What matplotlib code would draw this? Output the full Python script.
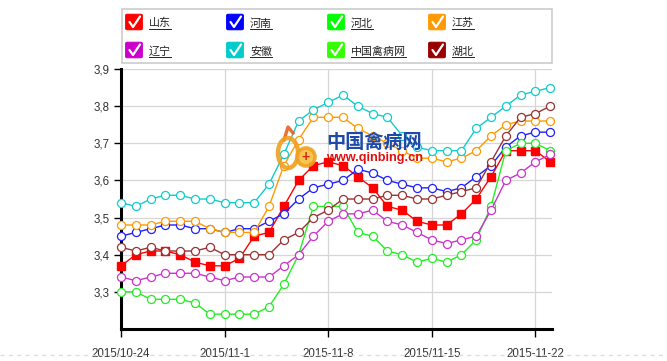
import matplotlib
matplotlib.use('Agg')
import matplotlib.pyplot as plt
from matplotlib.patches import FancyBboxPatch, Rectangle, Ellipse
from matplotlib.lines import Line2D

W, H = 667, 361
plt.rcParams['font.family'] = ['Liberation Sans', 'Noto Sans CJK SC', 'DejaVu Sans']

# ---------------- data ----------------
tick_labels = ['2015/10-24', '2015/11-1', '2015-11-8', '2015/11-15', '2015-11-22']
tick_pos = [0, 7, 14, 21, 28]
y_ticks = [3.3, 3.4, 3.5, 3.6, 3.7, 3.8, 3.9]
y_tick_labels = ['3,3', '3,4', '3,5', '3,6', '3,7', '3,8', '3,9']

series_names = ['山东', '河南', '河北', '江苏', '辽宁', '安徽', '中国禽病网', '湖北']
shandong = [3.37, 3.40, 3.41, 3.41, 3.40, 3.38, 3.37, 3.37, 3.39, 3.45,
            3.46, 3.53, 3.60, 3.64, 3.65, 3.64, 3.61, 3.58, 3.53, 3.52,
            3.49, 3.48, 3.48, 3.51, 3.55, 3.61, 3.68, 3.68, 3.68, 3.65]
henan = [3.45, 3.46, 3.47, 3.48, 3.48, 3.47, 3.47, 3.46, 3.47, 3.47,
         3.49, 3.51, 3.55, 3.58, 3.59, 3.60, 3.63, 3.62, 3.60, 3.59,
         3.58, 3.58, 3.57, 3.58, 3.61, 3.64, 3.69, 3.72, 3.73, 3.73]
hebei = [3.30, 3.30, 3.28, 3.28, 3.28, 3.27, 3.24, 3.24, 3.24, 3.24,
         3.26, 3.32, 3.40, 3.53, 3.53, 3.53, 3.46, 3.45, 3.41, 3.40,
         3.38, 3.39, 3.38, 3.40, 3.44, 3.53, 3.68, 3.70, 3.70, 3.68]
jiangsu = [3.48, 3.48, 3.48, 3.49, 3.49, 3.49, 3.47, 3.46, 3.46, 3.46,
           3.53, 3.64, 3.71, 3.77, 3.77, 3.77, 3.74, 3.72, 3.70, 3.68,
           3.66, 3.66, 3.65, 3.66, 3.68, 3.72, 3.75, 3.76, 3.76, 3.76]
liaoning = [3.34, 3.33, 3.34, 3.35, 3.35, 3.35, 3.34, 3.33, 3.34, 3.34,
            3.34, 3.37, 3.40, 3.45, 3.49, 3.51, 3.51, 3.52, 3.49, 3.48,
            3.46, 3.44, 3.43, 3.44, 3.45, 3.52, 3.60, 3.62, 3.65, 3.67]
anhui = [3.54, 3.53, 3.55, 3.56, 3.56, 3.55, 3.55, 3.54, 3.54, 3.54,
         3.59, 3.67, 3.76, 3.79, 3.81, 3.83, 3.80, 3.78, 3.77, 3.72,
         3.69, 3.68, 3.68, 3.68, 3.74, 3.77, 3.80, 3.83, 3.84, 3.85]
qinbing = []
hubei = [3.42, 3.41, 3.42, 3.41, 3.41, 3.41, 3.42, 3.40, 3.40, 3.40,
         3.40, 3.44, 3.46, 3.50, 3.52, 3.55, 3.55, 3.55, 3.56, 3.56,
         3.55, 3.55, 3.56, 3.57, 3.58, 3.65, 3.72, 3.77, 3.78, 3.80]

series_values = [shandong, henan, hebei, jiangsu, liaoning, anhui, qinbing, hubei]
line_colors = ['#ff0000', '#2020ff', '#22ee22', '#ff9900', '#cc33cc', '#11cccc', '#33ff00', '#993333']
box_colors = ['#ff0000', '#0000ff', '#00ff00', '#ff9900', '#cc00cc', '#00cccc', '#33ff00', '#990000']

# ---------------- figure ----------------
fig = plt.figure(figsize=(W / 100, H / 100), dpi=100)
fig.patch.set_facecolor('white')

def fx(x):
    return x / W

def fy(y):
    return 1 - y / H

ax = fig.add_axes([fx(121), fy(329), 431 / W, 260 / H])
ax.set_xlim(0, 29.12)
ax.set_ylim(3.2, 3.9)
ax.set_facecolor('none')

for s in ['top', 'right']:
    ax.spines[s].set_visible(False)
for s in ['left', 'bottom']:
    ax.spines[s].set_linewidth(2.2)
    ax.spines[s].set_color('black')
    ax.spines[s].set_zorder(3)

ax.set_yticks(y_ticks)
ax.set_yticklabels(y_tick_labels)
ax.set_xticks(tick_pos)
ax.set_xticklabels(tick_labels)
ax.tick_params(axis='y', length=5, width=1, color='black', labelsize=8.3,
               labelcolor='#333333', pad=3)
ax.tick_params(axis='x', length=6, width=1, color='black', labelsize=8.3,
               labelcolor='#333333', pad=8)
ax.grid(True, color='#d6d6d6', linewidth=0.9, zorder=0)
ax.set_axisbelow(True)

xs_all = list(range(30))
for name, vals, c in zip(series_names, series_values, line_colors):
    if not vals:
        continue
    xs = xs_all[:len(vals)]
    if name == '山东':
        ax.plot(xs, vals, color=c, lw=1.0, marker='s', ms=6.3, mfc=c, mec=c,
                clip_on=False, zorder=4)
    else:
        ax.plot(xs, vals, color=c, lw=1.0, marker='o', ms=5.8, mfc='white', mec=c,
                mew=0.9, clip_on=False, zorder=4)

# watermark (drawn over the lines, like the reference)
fig.text(fx(326), fy(142), '中国禽病网', fontsize=13.8, fontweight='bold',
         color='#1d4aa8', family=['Noto Sans CJK SC', 'DejaVu Sans'],
         va='center', ha='left', zorder=2)
fig.text(fx(326), fy(158.5), 'www.qinbing.cn', fontsize=9.2, fontweight='bold',
         color='#e01010', family=['Liberation Sans', 'DejaVu Sans'],
         va='center', ha='left', zorder=2)


def pix_ellipse(cx, cy, w, h, **kw):
    e = Ellipse((fx(cx), fy(cy)), w / W, h / H, transform=fig.transFigure, **kw)
    fig.patches.append(e)


pix_ellipse(288, 153, 20, 30, facecolor='none', edgecolor='#f0a020', linewidth=3.2, zorder=2, alpha=0.9)
pix_ellipse(306, 157, 18, 18, facecolor='#f6c040', edgecolor='#f0a020', linewidth=2.6, zorder=2, alpha=0.9)
fig.add_artist(Line2D([fx(284), fx(288), fx(293)], [fy(140), fy(127), fy(133)],
                      transform=fig.transFigure, color='#e86020', linewidth=2.4, zorder=2, alpha=0.9))
fig.text(fx(306), fy(157), '+', color='#d62a10', fontsize=10, fontweight='bold',
         ha='center', va='center', zorder=2)

# legend box
fig.patches.append(Rectangle((fx(122), fy(63)), 430 / W, 54 / H, transform=fig.transFigure,
                             facecolor='white', edgecolor='#cccccc', linewidth=1.2, zorder=5))
col_x = [126, 227, 328, 429]
row_y = [14, 42]
fig.canvas.draw()
renderer = fig.canvas.get_renderer()
for i, (name, bc) in enumerate(zip(series_names, box_colors)):
    r, cidx = divmod(i, 4)
    x0 = col_x[cidx]
    y0 = row_y[r]
    s = 16
    fig.patches.append(FancyBboxPatch((fx(x0 + 1), fy(y0 + s - 1)), (s - 2) / W, (s - 2) / H,
                                      boxstyle='round,pad=0.002,rounding_size=0.003',
                                      transform=fig.transFigure, facecolor=bc, edgecolor=bc,
                                      linewidth=0.8, zorder=6))
    fig.add_artist(Line2D([fx(x0 + 3.5), fx(x0 + 7), fx(x0 + 14)],
                          [fy(y0 + 8), fy(y0 + 13), fy(y0 + 2.5)],
                          transform=fig.transFigure, color='white', linewidth=1.6,
                          solid_capstyle='round', solid_joinstyle='round', zorder=7))
    t = fig.text(fx(x0 + 23), fy(y0 + 9.3), name, fontsize=7.9, color='#222222',
                 family=['Noto Sans CJK SC', 'DejaVu Sans'], va='center', ha='left', zorder=7)
    bb = t.get_window_extent(renderer)
    uy = y0 + 14.5
    fig.add_artist(Line2D([bb.x0 / W, bb.x1 / W], [fy(uy), fy(uy)], transform=fig.transFigure,
                          color='#222222', linewidth=0.7, zorder=7))

# bottom dashed line
fig.add_artist(Line2D([0, 1], [fy(355), fy(355)], transform=fig.transFigure,
                      color='#dddddd', linewidth=1, linestyle=(0, (3, 3))))

fig.savefig('out.png', dpi=100, facecolor='white')
